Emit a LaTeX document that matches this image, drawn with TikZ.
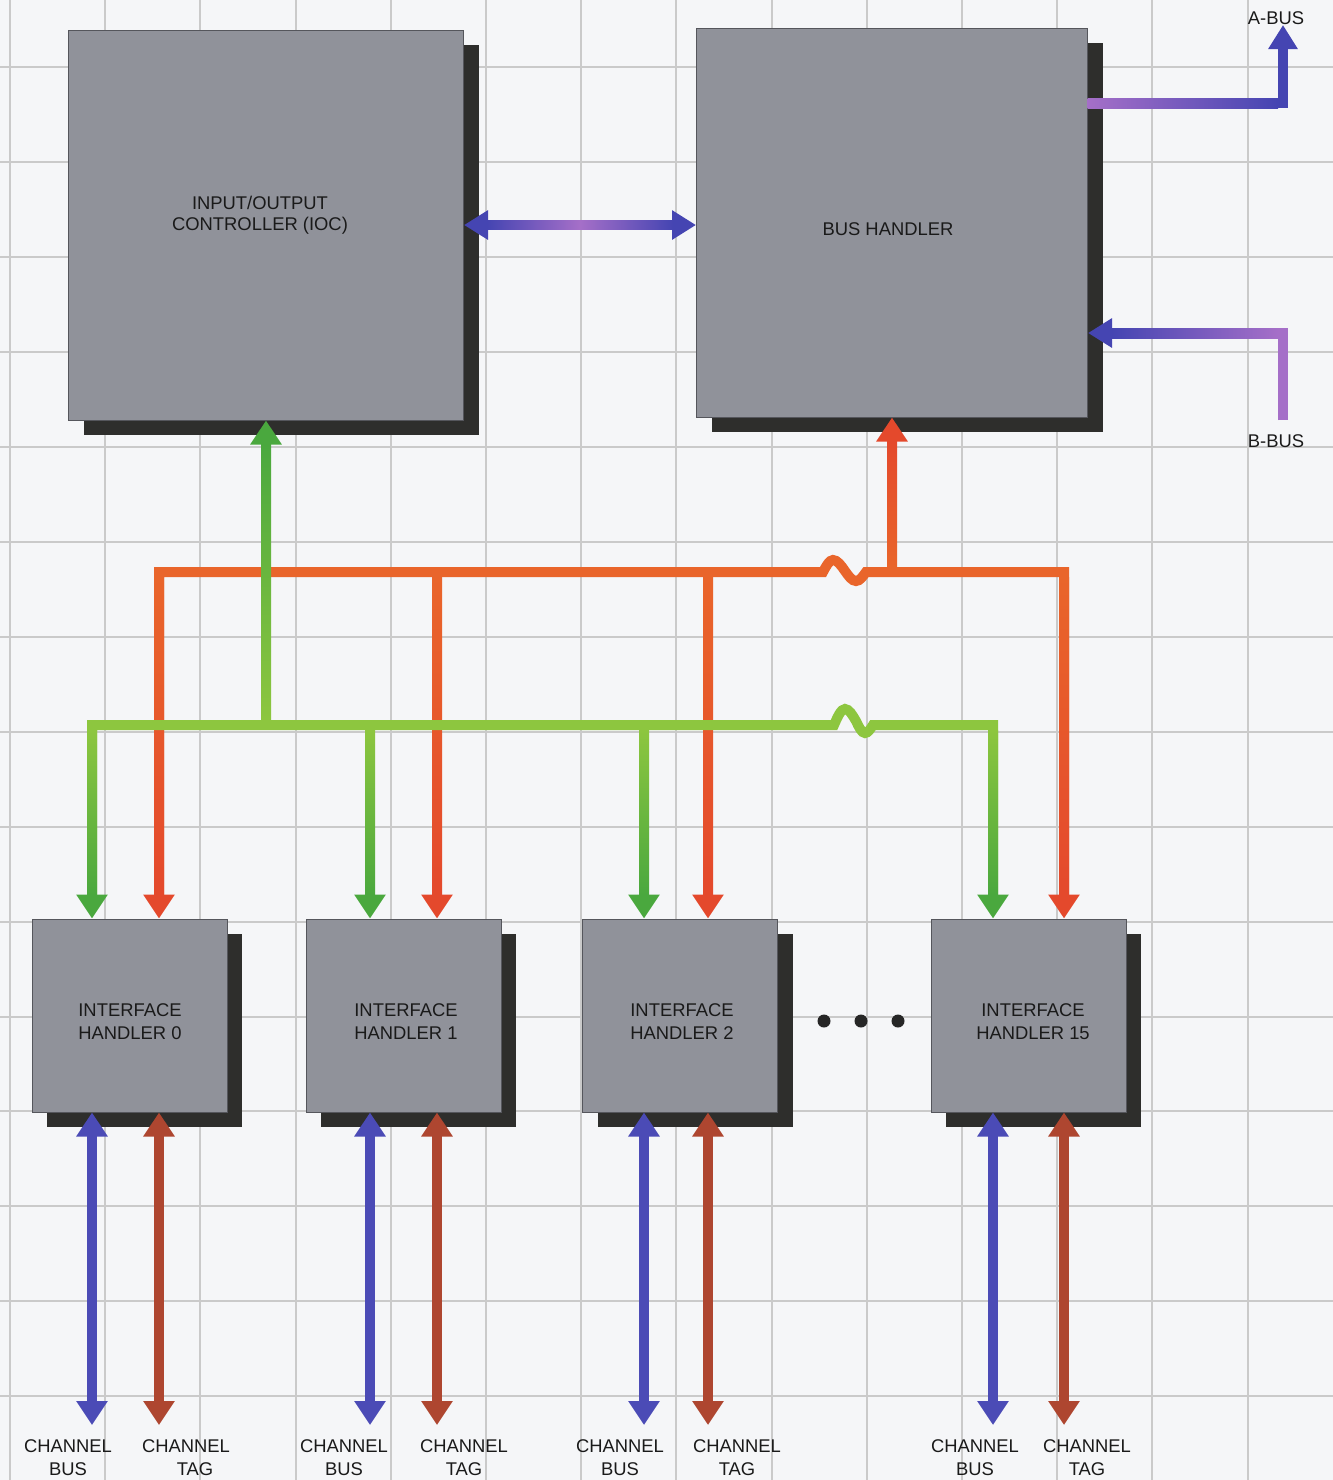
\documentclass[tikz,border=0pt]{standalone}
\usepackage{fontspec}
\setmainfont{Liberation Sans}
\usetikzlibrary{arrows.meta,shadows,calc}
\definecolor{bgc}{HTML}{F5F6F8}
\definecolor{gridc}{HTML}{CACACA}
\definecolor{boxc}{HTML}{90929A}
\definecolor{boxedge}{HTML}{55565C}
\definecolor{shadowc}{HTML}{2E2E2C}
\definecolor{textc}{HTML}{1A1A1A}
\definecolor{gbus}{HTML}{8DC63F}
\definecolor{gdark}{HTML}{4AA83E}
\definecolor{obus}{HTML}{E9652B}
\definecolor{ored}{HTML}{E4492C}
\definecolor{pblue}{HTML}{4545B2}
\definecolor{ppurple}{HTML}{A56FC8}
\definecolor{cblue}{HTML}{4B4BB6}
\definecolor{cbrown}{HTML}{AE4630}
\tikzset{
  gtip/.tip={Triangle[width=15pt,length=12pt,color=gdark]},
  otip/.tip={Triangle[width=15pt,length=12pt,color=ored]},
  ptip/.tip={Triangle[width=14pt,length=12pt,color=pblue]}
}
\begin{document}
\begin{tikzpicture}[x=0.5pt,y=-0.5pt,
  >={Triangle[width=15pt,length=12pt]},
  txt/.style={font=\fontsize{9.2}{11.5}\selectfont, text=textc, align=center, inner sep=0pt},
  box/.style={rectangle, fill=boxc, draw=boxedge, line width=0.5pt, inner sep=0pt,
    general shadow={fill=shadowc, shadow xshift=7.5pt, shadow yshift=-7.5pt}},
  bigbox/.style={box, minimum width=197.5pt, minimum height=195pt},
  ihbox/.style={box, minimum width=97.5pt, minimum height=96.5pt},
  gridline/.style={draw=gridc, line width=1pt},
  gline/.style={draw=gbus, line width=5pt},
  oline/.style={draw=obus, line width=5pt},
  pline/.style={draw=pblue, line width=4.5pt},
  cbline/.style={draw=cblue, line width=5pt},
  ctline/.style={draw=cbrown, line width=5pt},
  lbl/.style={txt},
  dot/.style={circle, fill=black!85, inner sep=0pt, minimum size=6.5pt}
]
\useasboundingbox (0,0) rectangle (1333,1480);
\fill[bgc] (0,0) rectangle (1333,1480);
% grid
\foreach \k in {0,...,13} \draw[gridline] ({10+95.2*\k},0) -- ({10+95.2*\k},1480);
\foreach \k in {0,...,14} \draw[gridline] (0,{67+94.95*\k}) -- (1333,{67+94.95*\k});

% boxes
\node[bigbox] (ioc) at (266,225) {};
\node[bigbox, minimum width=195.5pt, minimum height=194.5pt] (bh) at (892,222.5) {};
\node[ihbox] (ih0) at (129.5,1015.5) {};
\node[ihbox] (ih1) at (403.5,1015.5) {};
\node[ihbox] (ih2) at (680,1015.5) {};
\node[ihbox] (ih3) at (1028.5,1015.5) {};
% box texts
\node[txt, font=\fontsize{9.2}{10.5}\selectfont] (ioct) at (260,215.5) {INPUT/OUTPUT\\CONTROLLER (IOC)};
\node[txt] (bht) at (888,229) {BUS HANDLER};
\node[txt] (ih0t) at (130,1021.5) {INTERFACE\\HANDLER 0};
\node[txt] (ih1t) at (406,1021.5) {INTERFACE\\HANDLER 1};
\node[txt] (ih2t) at (682,1021.5) {INTERFACE\\HANDLER 2};
\node[txt] (ih3t) at (1033,1021.5) {INTERFACE\\HANDLER 15};

% dots
\node[dot] (d1) at (824,1021) {};
\node[dot] (d2) at (861,1021) {};
\node[dot] (d3) at (898,1021) {};

% coordinates
\coordinate (g0) at (92,725);
\coordinate (g1) at (370,725);
\coordinate (g2) at (644,725);
\coordinate (g3) at (993,725);
\coordinate (o0) at (159,572);
\coordinate (o1) at (437,572);
\coordinate (o2) at (708,572);
\coordinate (o3) at (1064,572);
\coordinate (bot) at (0,1425);
\coordinate (abc) at (1283,103);
\coordinate (abt) at (1283,25);
\coordinate (bbc) at (1283,333);
\coordinate (bbt) at (1283,420);

% IOC <-> bus handler
\draw[pline, ptip-ptip] (ioc.east) -- (ioc.east -| bh.west);
\shade[left color=pblue, right color=pblue, middle color=ppurple] (487,220.5) rectangle (673,229.5);

% A-BUS / B-BUS
\draw[pline, line width=5pt, -ptip] (bh.east |- abc) -- (abc) -- (abt);
\shade[left color=ppurple, right color=pblue] (1087.5,98) rectangle (1278,108);
\draw[pline, line width=5pt, -ptip] (bbt) -- (bbc) -- (bbc -| bh.east);
\shade[left color=pblue, right color=ppurple] (1112,328) rectangle (1278,338);
\fill[ppurple] (1278,328) rectangle (1288,420);

% orange bus
\draw[oline, otip-otip] (o0 |- ih0.north) -- (o0) -- (823,572) sin (833,560) cos (845,571) sin (856,581) cos (866,572) -- (o3) -- (o3 |- ih3.north);
\draw[oline, -otip] (o1) -- (o1 |- ih1.north);
\draw[oline, -otip] (o2) -- (o2 |- ih2.north);
\draw[oline, -otip] (bh.south |- o0) -- (bh.south);
\foreach \x in {159,437,708,1064}
  \shade[top color=obus, bottom color=ored] ({\x-5},577) rectangle ({\x+5},895);
\shade[top color=ored, bottom color=obus] (887,441) rectangle (897,567);

% green bus
\draw[gline, gtip-gtip] (g0 |- ih0.north) -- (g0) -- (834,725) sin (845,709) cos (856,721) sin (865,733) cos (873,725) -- (g3) -- (g3 |- ih3.north);
\draw[gline, -gtip] (g1) -- (g1 |- ih1.north);
\draw[gline, -gtip] (g2) -- (g2 |- ih2.north);
\draw[gline, -gtip] (ioc.south |- g0) -- (ioc.south);
\foreach \x in {92,370,644,993}
  \shade[top color=gbus, bottom color=gdark] ({\x-5},730) rectangle ({\x+5},895);
\shade[top color=gdark, bottom color=gbus] (261,444) rectangle (271,720);

% channel arrows
\draw[cbline, <->] (g0 |- ih0.south) -- (g0 |- bot);
\draw[ctline, <->] (o0 |- ih0.south) -- (o0 |- bot);
\draw[cbline, <->] (g1 |- ih1.south) -- (g1 |- bot);
\draw[ctline, <->] (o1 |- ih1.south) -- (o1 |- bot);
\draw[cbline, <->] (g2 |- ih2.south) -- (g2 |- bot);
\draw[ctline, <->] (o2 |- ih2.south) -- (o2 |- bot);
\draw[cbline, <->] (g3 |- ih3.south) -- (g3 |- bot);
\draw[ctline, <->] (o3 |- ih3.south) -- (o3 |- bot);

% labels
\node[lbl] (abl) at (1276,18) {A-BUS};
\node[lbl] (bbl) at (1276,441) {B-BUS};
\node[lbl] (cb0) at (68,1457.5) {CHANNEL\\BUS};
\node[lbl] (ct0) at (186,1457.5) {CHANNEL\\\hspace*{9pt}TAG};
\node[lbl] (cb1) at (344,1457.5) {CHANNEL\\BUS};
\node[lbl] (ct1) at (464,1457.5) {CHANNEL\\TAG};
\node[lbl] (cb2) at (620,1457.5) {CHANNEL\\BUS};
\node[lbl] (ct2) at (737,1457.5) {CHANNEL\\TAG};
\node[lbl] (cb3) at (975,1457.5) {CHANNEL\\BUS};
\node[lbl] (ct3) at (1087,1457.5) {CHANNEL\\TAG};
\end{tikzpicture}
\end{document}
